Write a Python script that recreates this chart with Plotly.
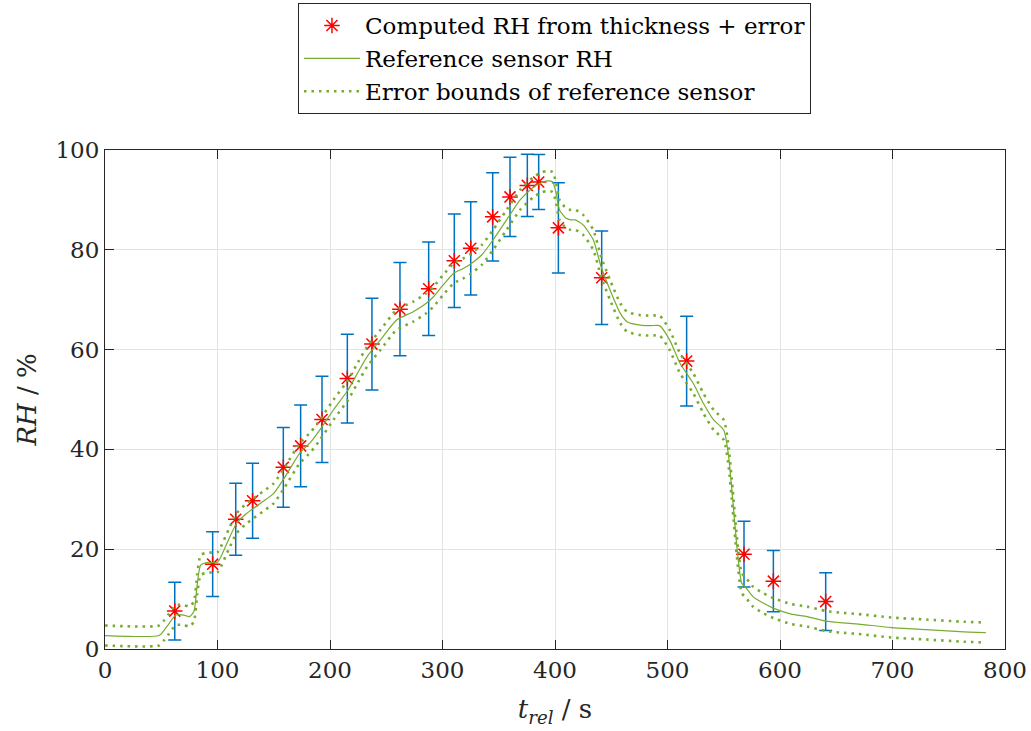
import plotly.graph_objects as go

# Computed RH from thickness (points with error bars)
t_pts = [62, 95.7, 116.2, 131.2, 158.5, 173.9, 192.9, 215.4, 237.3, 262.2, 287.7, 310.5,
         325.1, 344.6, 360.0, 375.4, 385.5, 403.0, 441.5, 517.0, 568.0, 594.1, 640.6]
rh_pts = [7.6, 17.0, 26.0, 29.7, 36.4, 40.7, 46.0, 54.2, 61.1, 68.1, 72.2, 77.8,
          80.3, 86.6, 90.6, 92.9, 93.6, 84.4, 74.4, 57.7, 19.0, 13.6, 9.5]
rh_err = [5.8, 6.5, 7.2, 7.5, 8.0, 8.2, 8.65, 8.9, 9.2, 9.35, 9.35, 9.35,
          9.35, 8.85, 7.95, 6.25, 5.5, 9.05, 9.35, 9.0, 6.6, 6.15, 5.8]

# Reference sensor RH
t_ref = [0, 48, 52, 56, 63, 70, 75, 79, 82, 85, 90, 100, 103, 110, 117, 125, 132, 140, 150,
         160, 173, 183, 191, 203, 216, 225, 233, 245, 259, 274, 285, 292, 300, 310, 318, 324,
         335, 345, 357, 369, 381, 388, 393, 398, 401, 404, 410, 414, 418, 425, 434, 441, 449,
         458, 464, 476, 485, 493, 502, 511, 523, 532, 541, 550, 554, 558, 562, 566, 570, 576,
         585, 594, 610, 624, 641, 653, 670, 699, 730, 760, 783]
rh_ref = [2.7, 2.7, 3.6, 4.8, 6.8, 6.8, 6.5, 7.5, 13.0, 16.8, 17.3, 17.4, 18.5, 22.0, 25.2,
          27.0, 28.2, 29.5, 31.2, 34.5, 39.2, 41.5, 43.9, 47.9, 51.9, 55.5, 58.6, 62.0, 65.9,
          67.6, 69.2, 70.6, 72.8, 75.3, 76.2, 77.0, 79.0, 82.0, 86.0, 90.0, 92.6, 93.5, 93.8,
          93.6, 91.3, 88.0, 86.3, 86.0, 86.0, 85.0, 82.0, 76.6, 71.9, 67.3, 65.6, 64.9, 64.8,
          64.8, 61.9, 57.3, 53.2, 49.2, 45.9, 43.9, 39.2, 29.9, 19.8, 13.2, 12.2, 10.5, 9.2,
          8.2, 7.0, 6.5, 5.6, 5.3, 5.0, 4.3, 3.9, 3.5, 3.3]
sensor_accuracy = 2.0  # +/- %RH of the reference sensor

x_ticks = [0, 100, 200, 300, 400, 500, 600, 700, 800]
y_ticks = [0, 20, 40, 60, 80, 100]

upper = [v + sensor_accuracy for v in rh_ref]
lower = [v - sensor_accuracy for v in rh_ref]

FONT = "DejaVu Serif"
GREEN = "#77AC30"
BLUE = "#0072BD"
AX = "#262626"

fig = go.Figure()
fig.add_trace(go.Scatter(
    x=t_pts, y=rh_pts, mode="markers",
    name="Computed RH from thickness + error",
    marker=dict(symbol="asterisk-open", size=13, color="red", line=dict(color="red", width=1.5)),
    error_y=dict(type="data", array=rh_err, visible=True, color=BLUE, thickness=1.5, width=6.5),
))
fig.add_trace(go.Scatter(
    x=t_ref, y=rh_ref, mode="lines", name="Reference sensor RH",
    line=dict(color=GREEN, width=1.2, shape="spline", smoothing=0.6),
))
fig.add_trace(go.Scatter(
    x=t_ref, y=upper, mode="lines", name="Error bounds of reference sensor",
    line=dict(color=GREEN, width=2.6, dash="2.5px,5px", shape="spline", smoothing=0.6),
))
fig.add_trace(go.Scatter(
    x=t_ref, y=lower, mode="lines", name="Error bounds of reference sensor", showlegend=False,
    line=dict(color=GREEN, width=2.6, dash="2.5px,5px", shape="spline", smoothing=0.6),
))

axis_common = dict(
    showline=True, linecolor=AX, linewidth=1, mirror="ticks",
    ticks="inside", ticklen=9, tickcolor=AX, tickwidth=1,
    showgrid=True, gridcolor="#e3e3e3", gridwidth=1, zeroline=False,
    tickfont=dict(family=FONT, size=23, color=AX),
)

fig.update_layout(
    width=1031, height=731,
    margin=dict(l=105, r=26, t=150, b=82, autoexpand=False),
    paper_bgcolor="white", plot_bgcolor="white",
    font=dict(family=FONT, color=AX),
    showlegend=True,
    legend=dict(
        x=0.4994, y=1 - 3 / 731, xanchor="center", yanchor="top", yref="container",
        bordercolor=AX, borderwidth=1, bgcolor="white",
        font=dict(family=FONT, size=23, color="black"),
        itemwidth=56, tracegroupgap=0,
    ),
    xaxis=dict(axis_common, range=[0, 800], tickvals=x_ticks,
               title=dict(text="<i>t<sub>rel</sub></i> / s", font=dict(family=FONT, size=26, color=AX), standoff=18)),
    yaxis=dict(axis_common, range=[0, 100], tickvals=y_ticks,
               title=dict(text="<i>RH</i> / %", font=dict(family=FONT, size=26, color=AX), standoff=11)),
)

fig.write_html("out.html")
